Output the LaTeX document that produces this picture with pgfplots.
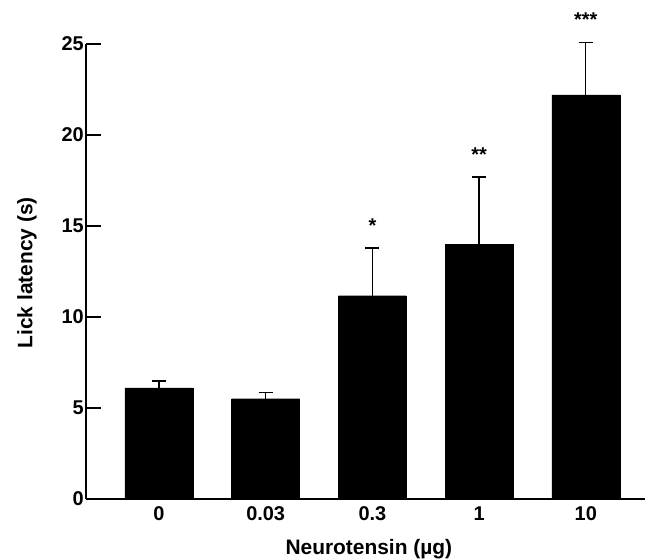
\documentclass[border=0pt]{standalone}
\usepackage{pgfplots}
\pgfplotsset{compat=1.18}
\usepackage{fontspec}
\setmainfont{Liberation Sans}
\begin{document}
\begin{tikzpicture}
\useasboundingbox (-86bp,-60bp) rectangle (566bp,499bp);
\begin{axis}[
  at={(0,0)}, anchor=south west,
  scale only axis, width=559bp, height=455bp,
  xmin=-0.684, xmax=4.555, ymin=0, ymax=25,
  axis lines*=left, axis line style={line width=1.4bp},
  ybar, bar width=68bp,
  xtick={0,1,2,3,4}, xticklabels={0,0.03,0.3,1,10},
  major x tick style={draw=none},
  ytick={0,5,10,15,20,25},
  tick align=inside, major tick length=15bp,
  every tick/.style={line width=1.4bp, black},
  /pgf/number format/assume math mode=true,
  ticklabel style={font=\fontsize{20}{22}\selectfont\bfseries},
  xticklabel style={yshift=-4bp},
  yticklabel style={inner sep=2bp},
  xlabel={Neurotensin (µg)}, ylabel={Lick latency (s)},
  label style={font=\fontsize{21}{24}\selectfont\bfseries},
  xlabel style={at={(axis description cs:0.506,-0.110)}, anchor=center},
  ylabel style={at={(axis description cs:-0.1055,0.497)}, anchor=center},
  clip=false,
]
\addplot[fill=black, draw=black, bar shift=0pt,
  error bars/.cd, y dir=plus, y explicit,
  error bar style={line width=1.4bp, black},
  error mark options={rotate=90, mark size=7bp, line width=1.4bp, black}]
  coordinates {
  (0,6.10) +- (0,0.38)
  (1,5.51) +- (0,0.35)
  (2,11.17) +- (0,2.62)
  (3,14.01) +- (0,3.68)
  (4,22.21) +- (0,2.88)
};
\addplot[sharp plot, draw=none, mark=none, bar shift=0pt,
  nodes near coords, point meta=explicit symbolic,
  every node near coord/.style={anchor=center, font=\fontsize{20}{22}\selectfont\bfseries}]
  coordinates {
  (2,15.0) [*]
  (3,18.9) [**]
  (4,26.35) [***]
};
\end{axis}
\end{tikzpicture}
\end{document}
